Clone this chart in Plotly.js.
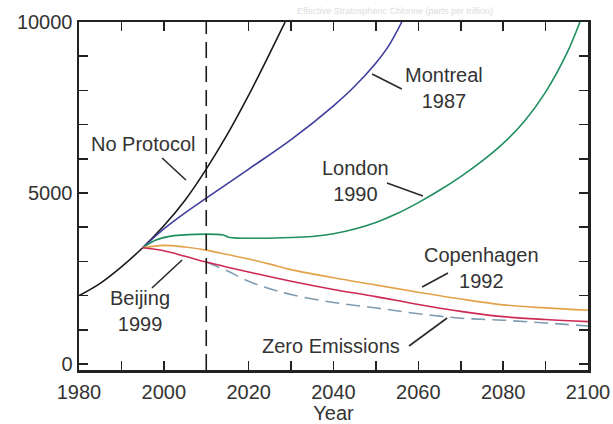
<!DOCTYPE html>
<html>
<head>
<meta charset="utf-8">
<script src="https://cdn.plot.ly/plotly-3.0.1.min.js"></script>
<style>html,body{margin:0;padding:0;background:#fff;}#chart{width:613px;height:424px;}</style>
</head>
<body>
<div id="chart"></div>
<script>
// ---- data ----
const noProtocolYears  = [1980, 1985, 1990, 1995, 2000, 2005, 2010, 2015, 2020, 2025, 2028.6];
const noProtocolValues = [2000, 2360, 2840, 3400, 4040, 4790, 5700, 6720, 7860, 9090, 10000];

const montrealYears  = [1995, 2000, 2005, 2010, 2020, 2030, 2040, 2045, 2050, 2053, 2056.1];
const montrealValues = [3400, 3950, 4420, 4850, 5700, 6560, 7550, 8120, 8800, 9300, 10000];

const londonYears  = [1995, 1998, 2001, 2004, 2014, 2015.5, 2030, 2035, 2040, 2045, 2050, 2055, 2060, 2065, 2070, 2075, 2080, 2085, 2090, 2095, 2098.1];
const londonValues = [3400, 3620, 3725, 3770, 3770, 3700, 3700, 3730, 3810, 3950, 4140, 4400, 4720, 5080, 5480, 5930, 6450, 7100, 7950, 9080, 10000];

const copenhagenYears  = [1995, 2000, 2005, 2010, 2015, 2020, 2025, 2030, 2040, 2050, 2060, 2070, 2080, 2090, 2100];
const copenhagenValues = [3400, 3470, 3420, 3330, 3200, 3070, 2920, 2760, 2520, 2310, 2100, 1900, 1730, 1640, 1570];

const beijingYears  = [1995, 2000, 2005, 2010, 2015, 2020, 2030, 2040, 2050, 2060, 2070, 2080, 2090, 2100];
const beijingValues = [3400, 3310, 3150, 2980, 2830, 2690, 2420, 2180, 1970, 1740, 1540, 1385, 1300, 1240];

const zeroYears  = [2010, 2015, 2020, 2025, 2030, 2040, 2050, 2060, 2070, 2080, 2090, 2100];
const zeroValues = [2980, 2720, 2420, 2200, 2030, 1800, 1640, 1470, 1340, 1280, 1200, 1110];

const referenceYear = 2010;

const xTickVals = [1980, 1990, 2000, 2010, 2020, 2030, 2040, 2050, 2060, 2070, 2080, 2090, 2100];
const xTickText = ['1980', '', '2000', '', '2020', '', '2040', '', '2060', '', '2080', '', '2100'];
const yTickVals = [0, 1000, 2000, 3000, 4000, 5000, 6000, 7000, 8000, 9000, 10000];
const yTickText = ['0', '', '', '', '', '5000', '', '', '', '', '10000'];

// labels: text, year, value
const labelTexts  = ['No Protocol', 'Montreal<br>1987', 'London<br>1990', 'Copenhagen<br>1992', 'Beijing<br>1999', 'Zero Emissions'];
const labelYears  = [1995.1, 2066.0, 2045.3, 2074.8, 1994.4, 2039.4];
const labelValues = [6433, 8085, 5365, 2807, 1550, 526];
// pointer segments: from (x0,y0) to (x1,y1)
const pointerX0 = [1999.6, 2049.1, 2052.6, 2060.9, 1997.2, 2057.8];
const pointerY0 = [6023, 8480, 5292, 2251, 2222, 526];
const pointerX1 = [2005.2, 2056.1, 2061.1, 2067.0, 2004.3, 2066.8];
const pointerY1 = [5380, 8041, 4912, 2661, 3041, 1345];

// ---- chart ----
const FONT = 'Liberation Sans, Arial, sans-serif';
const textColor = '#333333';
const FS = 20;

function line(x, y, color, dash) {
  return {x: x, y: y, type: 'scatter', mode: 'lines',
          line: {color: color, width: 1.6, dash: dash || 'solid', shape: 'spline', smoothing: 1},
          hoverinfo: 'skip', showlegend: false};
}

const traces = [
  line(zeroYears, zeroValues, '#7f9bb0', '14px,7px'),
  line(noProtocolYears, noProtocolValues, '#1a1a1a'),
  line(montrealYears, montrealValues, '#3f3d9c'),
  line(londonYears, londonValues, '#1f8f5f'),
  line(copenhagenYears, copenhagenValues, '#e3a24a'),
  line(beijingYears, beijingValues, '#cf2a55')
];

const annotations = labelTexts.map((t, i) => ({
  text: t, x: labelYears[i], y: labelValues[i], xref: 'x', yref: 'y',
  showarrow: false, font: {family: FONT, size: FS, color: textColor}, align: 'center'
}));
annotations.push({
  text: 'Effective Stratospheric Chlorine (parts per trillion)',
  xref: 'paper', yref: 'paper', x: 0.62, y: 1.0, yanchor: 'bottom', yshift: 4,
  showarrow: false, font: {family: FONT, size: 9, color: '#dcdcdc'}
});

const shapes = pointerX0.map((x0, i) => ({
  type: 'line', xref: 'x', yref: 'y', x0: x0, y0: pointerY0[i], x1: pointerX1[i], y1: pointerY1[i],
  line: {color: '#2a2a2a', width: 1.6}
}));
shapes.push({
  type: 'line', xref: 'x', yref: 'paper', x0: referenceYear, x1: referenceYear, y0: 0, y1: 1,
  line: {color: '#1a1a1a', width: 1.6, dash: '16px,8px'}
});

const layout = {
  width: 613, height: 424,
  margin: {l: 79, r: 25, t: 22, b: 54},
  paper_bgcolor: '#ffffff', plot_bgcolor: '#ffffff',
  font: {family: FONT, size: FS, color: textColor},
  showlegend: false,
  xaxis: {
    range: [1980, 2100], tickmode: 'array', tickvals: xTickVals, ticktext: xTickText,
    ticks: 'inside', ticklen: 9, tickwidth: 1.5, tickcolor: '#222',
    showline: true, linewidth: 2.5, linecolor: '#222', mirror: 'allticks',
    showgrid: false, zeroline: false, ticklabelstandoff: 2,
    tickfont: {family: FONT, size: FS, color: textColor},
    title: {text: 'Year', font: {family: FONT, size: FS, color: textColor}, standoff: 7}
  },
  yaxis: {
    range: [-175, 10000], tickmode: 'array', tickvals: yTickVals, ticktext: yTickText,
    ticks: 'inside', ticklen: 9, tickwidth: 1.5, tickcolor: '#222',
    showline: true, linewidth: 2.5, linecolor: '#222', mirror: 'allticks',
    showgrid: false, zeroline: false,
    tickfont: {family: FONT, size: FS, color: textColor}
  },
  annotations: annotations,
  shapes: shapes
};

Plotly.newPlot('chart', traces, layout, {displayModeBar: false, staticPlot: true});
</script>
</body>
</html>
